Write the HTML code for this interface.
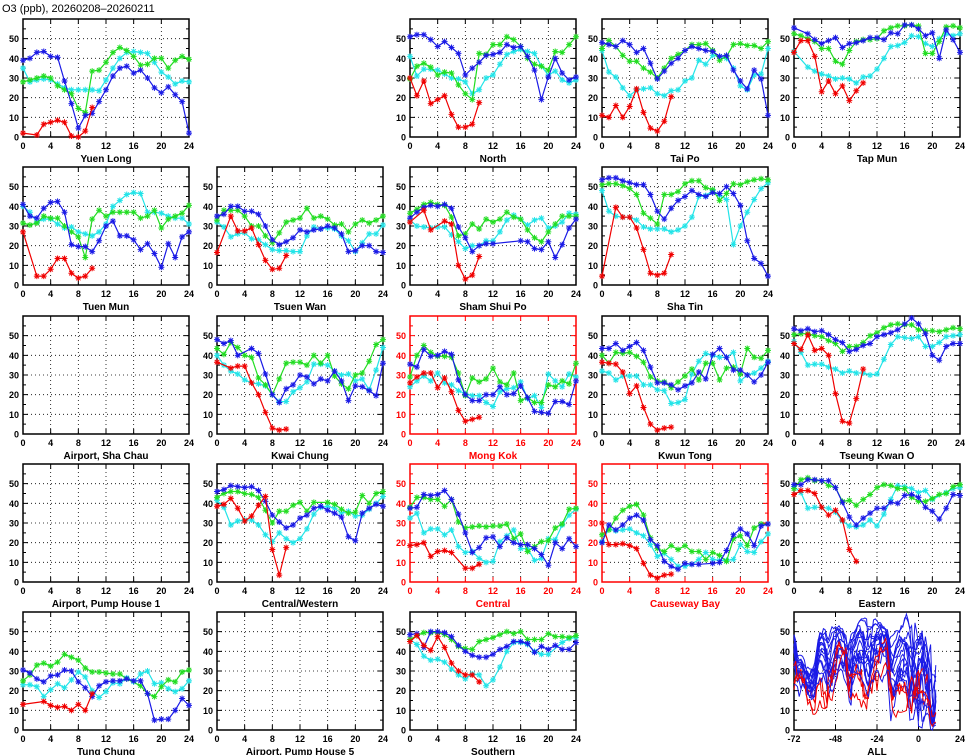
<!DOCTYPE html>
<html><head><meta charset="utf-8">
<style>
html,body{margin:0;padding:0;background:#fff;}
svg{display:block;font-family:"Liberation Sans",sans-serif;}
</style></head>
<body>
<svg id="chart" width="965" height="755" viewBox="0 0 965 755" xmlns="http://www.w3.org/2000/svg">
<text x="2" y="12" font-size="11">O3 (ppb), 20260208–20260211</text>
</svg>
<script>
// Hours and tick labels
const hoursLabels = [0,4,8,12,16,20,24];
const allLabels = [-72,-48,-24,0,24];
const yLabels = [0,10,20,30,40,50];

// Day series order: day1 cyan, day2 green, day3 blue, day4 red
const yuenLong_c=[35,28,29,29.5,29,27,25,24,24,24,24,23.5,29,35,40,43,43.5,43,42.5,38,33,30.5,27,28.5,28];
const yuenLong_g=[28,29,30,31,30,26,24,22,14.5,12.5,33.5,34,38,43,45.5,44,41,36.5,37,40,40,35,39,41,39.5];
const yuenLong_b=[39,40,43,43.5,41,40.5,28.5,17,4.5,11,12,18,24,31,35,36,32.5,34,30,25,22.5,25.5,21.5,18,2];
const yuenLong_r=[2,null,1,6.5,7.5,8.5,7.5,0.5,0,3,15];

const north_c=[41,31,34.5,34.5,34,32,30,29.5,28,22,24,30,31.5,37,42,43.5,44.5,43.5,42.5,36,31.5,33.5,29,27.5,29];
const north_g=[29.5,36,37.5,35.5,31.5,33,32.5,26.5,22,19,42.5,42,47,47,51,49.5,46,40,37,36,34,43.5,43,47,51];
const north_b=[51,52,52,49.5,46,48.5,45.5,42.5,31.5,35,38,41.5,42,43,47,45.5,46,41,34,19,30.5,40,32.5,29,30.5];
const north_r=[30,21,28.5,17,19,21,11.5,5,5,6.5,17.5];

const taiPo_c=[44,33,30.5,25,21,24,24.5,25,22,21,23.5,24,28.5,30,39,37,41.5,41,40,35,26,24,31.5,32,45];
const taiPo_g=[45,49,46,41.5,38.5,38.5,35,33,30,35,40,42,44,47,47,47.5,44,39,41,47,47.5,46.5,46.5,45,48.5];
const taiPo_b=[48,47,46,49,47,43,45,37.5,29.5,33.5,37.5,40,44,46,45,44,43.5,41,41.5,34,28.5,24.5,34,29.5,11];
const taiPo_r=[11,10,16,10,15.5,24.5,12.5,4.5,3,8,20.5];

const tapMun_c=[43.5,null,35.5,33.5,32,31,29.5,30,29.5,27.5,30.5,31,34.5,40,46,46.5,48,51.5,51,47.5,46,50,52.5,51.5,52.5];
const tapMun_g=[52.5,51.5,50,48.5,45,45,38.5,37,44,48.5,49.5,49.5,50,54,55.5,56.5,56.5,57,56.5,42.5,42.5,48.5,56,56.5,55.5];
const tapMun_b=[55.5,null,52.5,49.5,47.5,49,50.5,45.5,47.5,48,49,50.5,50.5,49.5,53,52.5,57,57,55,51.5,53,40,54.5,49.5,43];
const tapMun_r=[43,49,49,41,23,28.5,22,26,18.5,23.5,27.5];

const tuenMun_c=[40,37,32,33.5,33.5,31,29,29.5,27,26,25,27,31,40,43,46,47,46.5,37,37,36.5,35,34,34,31];
const tuenMun_g=[31.5,30.5,31.5,35,34,34,30,27,24.5,14,33.5,38,35,37,37,37,37,34,35,38,29,33.5,35,36.5,40.5];
const tuenMun_b=[41,35,34,39,42,42.5,37,20.5,19.5,19.5,17,22.5,30,32.5,25,25,23,18,21,16,9,21,14,24.5,27];
const tuenMun_r=[27,null,4.5,4.5,8,13.5,13.5,6,3.5,4.5,8.5];

const tsuenWan_c=[32,29.5,24.5,26,26.5,23.5,23,20.5,18,17.5,17.5,17,17,25,29.5,28.5,29,28.5,25,22.5,17,21.5,26,26,30.5];
const tsuenWan_g=[33,38,38,38,35,30,30,25,21.5,26.5,32,33,34,39,34,35,33.5,30.5,31,27,31,33,31.5,33,35];
const tsuenWan_b=[35,36,40,40,37.5,37.5,36,30,23,20.5,22,24,28,27,28,28.5,30,29,26,17,17.5,20,20,17,16.5];
const tsuenWan_r=[16.5,null,35,27.5,27.5,29,20.5,12.5,8,8.5,15];

const shamShuiPo_c=[33,30,29.5,29,29.5,29.5,25.5,22,18.5,20,20,22.5,22.5,27,33,35.5,33.5,30.5,33,34,29,30,32,36.5,36];
const shamShuiPo_g=[36.5,38.5,41,42,41,40.5,34.5,25,26,31,28.5,33.5,32,33.5,37,34.5,33.5,28,24,22,27,31,35,35,35];
const shamShuiPo_b=[34,37,39.5,40.5,40,41,39,29.5,24,17,20,21,21,null,null,null,22.5,22,18.5,18,22,14,20.5,29,33.5];
const shamShuiPo_r=[32,null,38,28,null,32.5,31,10,3,5,14.5];

const shaTin_c=[48,37.5,35,34.5,34.5,33,29.5,28.5,28.5,28.5,27,28,30,34.5,45,45.5,48,45.5,43.5,20.5,30,37,43.5,49,52];
const shaTin_g=[51,51.5,51.5,50.5,49,46,36.5,34,31,46,46,47.5,51.5,53,53,49.5,48.5,43,46.5,51.5,51,52.5,53.5,54,53.5];
const shaTin_b=[53.5,54.5,54.5,53,52,51,51,46,37.5,33.5,39,43,45,48,46,45,47,46.5,50,46.5,40.5,22.5,13.5,11,4.5];
const shaTin_r=[4.5,null,39.5,34.5,34.5,29,18,6,5,6,15.5];

const kwaiChung_c=[40,35,32,30.5,27.5,26,25.5,24.5,20,16.5,16.5,21.5,23.5,26.5,35.5,35.5,35,32,30,30.5,27,28,22.5,32.5,44];
const kwaiChung_g=[43.5,40.5,46.5,44,40,39,28.5,25,20,28,36,36.5,36.5,35,40,36,40,29.5,25.5,23,30,31,37,45.5,48];
const kwaiChung_b=[48,46,47.5,40,null,43.5,41,30.5,20,16,23,25,30,29,25.5,28,27,32,27,17,24.5,24,22,19.5,36];
const kwaiChung_r=[36.5,null,33.5,34.5,34.5,26,20,11,3,2,2.5];

const mongKok_c=[24,27,29.5,27,31,26,25,22,20.5,19.5,19.5,16,14,21.5,23,23.5,26.5,18,19.5,13.5,30.5,27,24,30.5,29];
const mongKok_g=[29,40,45,41.5,39.5,39.5,39,31,19.5,28.5,26.5,28,33.5,26.5,25,31,17,18.5,16,16,25,24,27,25.5,36];
const mongKok_b=[35.5,34,43,39.5,40,42,40.5,27.5,20,17,17,20,20,24,20,20.5,24.5,18.5,11.5,11,10.5,16.5,16.5,15,27];
const mongKok_r=[26,29,31,31,23.5,28.5,21.5,12,6.5,7.5,8.5];

const kwunTong_c=[32,31,27.5,29.5,29.5,29.5,25,25,22.5,22,15.5,16,17.5,30.5,37,41,40,39,39,41.5,27,30,31,33.5,37];
const kwunTong_g=[40,36,41.5,41,41.5,39.5,36.5,29,27,26.5,23.5,26.5,29.5,33,27.5,36,36,27.5,33.5,34,30.5,43.5,39,38.5,42.5];
const kwunTong_b=[43.5,43.5,46,42.5,44.5,46.5,42.5,34,26,26,25,22.5,24.5,26,31.5,28,40.5,43.5,39,32.5,32.5,30,26.5,30,36.5];
const kwunTong_r=[36.5,36,35.5,31.5,20.5,24.5,13.5,5,2,3,3.5];

const tko_c=[47,41.5,35,35.5,35.5,34,33,31,32,31,31,30,30.5,38,45.5,49.5,49,48.5,49.5,44.5,44.5,46.5,49.5,50,50.5];
const tko_g=[50.5,51,51,50,49.5,47.5,46,42,44.5,44.5,46.5,50,51.5,54,55.5,56,55.5,55.5,53,52.5,52.5,52,53,54,53.5];
const tko_b=[53.5,52.5,53.5,52,52.5,50.5,48,46.5,42,43,45,46,49.5,50.5,51.5,53,56,59,56,51,40,37.5,44.5,46,46];
const tko_r=[46,43,50.5,42.5,43.5,40,20.5,6.5,5.5,18,33];

const centralWestern_c=[41.5,38,29,31,31.5,31.5,29,24,20.5,25,22,20,22,27,34.5,38,38.5,37.5,35,36,33.5,34,37,40,43.5];
const centralWestern_g=[43,45,46,46,45,44.5,43,36.5,30,36,36,39,40.5,36,40.5,null,40.5,39.5,37,35,35.5,44,40,45,46];
const centralWestern_b=[46,47,49,48.5,48,48.5,46.5,41,34,30.5,27.5,29,32.5,34,37.5,38.5,36.5,35,33,23,21,35,37.5,39.5,38.5];
const centralWestern_r=[38.5,39.5,42.5,37.5,31,33.5,39,43.5,16.5,3.5,17.5];

const central_c=[32.5,35,25,27,27,24,26.5,18,15,15.5,12,10,10.5,20.5,23.5,26.5,17,17,11,12,22,21.5,29,34,37];
const central_g=[38,43,43,42,42,38.5,42,30.5,27.5,28,28.5,28,28.5,28.5,29.5,22,24.5,15.5,18,20.5,21,27.5,29.5,37,37.5];
const central_b=[37.5,38,44.5,44,44.5,46.5,42,34.5,25,15,17.5,22.5,23,18,22.5,20,19,19,17,14,8.5,20,17,22,18];
const central_r=[18.5,19,20,13,15.5,16,15,null,7,7,9];

const causewayBay_c=[20.5,27,26,26.5,27,25,23.5,19,13,14.5,11.5,8,8,9,11.5,15,11.5,11,11,11.5,19,15.5,15,20.5,24.5];
const causewayBay_g=[24,26.5,32.5,36.5,38.5,39.5,34,22.5,17,15.5,18.5,16.5,18.5,15.5,15.5,11.5,15,13.5,10.5,22,23.5,18.5,27.5,29.5,29.5];
const causewayBay_b=[20,29,26.5,29,32.5,34,31.5,21.5,18.5,10.5,8,6.5,9.5,9,9,null,9.5,10,16,24,27,24.5,18.5,28.5,29.5];
const causewayBay_r=[30,19,19,19.5,18.5,17,9.5,3.5,2,3.5,4];

const eastern_c=[48.5,45.5,37.5,38,38,37.5,35.5,31,28.5,28,29,31.5,28.5,34.5,42,49,48.5,47.5,45.5,46.5,42,null,45.5,47.5,48];
const eastern_g=[47.5,52,53,51.5,51.5,49,48,41,41.5,39,42,44.5,48,49.5,49,47.5,47.5,43,41,41,42.5,44.5,45,48.5,49.5];
const eastern_b=[49.5,49.5,52,52,51.5,51.5,48,40.5,33,29,32.5,35,37.5,37.5,40.5,40,44,44.5,43,38,36,32,37.5,44.5,44];
const eastern_r=[44.5,46.5,46.5,45,38,34,36.5,31.5,16.5,10.5,null];

const tungChung_c=[23,23,22,17,20.5,23.5,21.5,25.5,29.5,27,20,16.5,19.5,24,23.5,26.5,24.5,28.5,30,23.5,24,21,19.5,21,25];
const tungChung_g=[25,28,33,34,32.5,34.5,38.5,37,35.5,31.5,29.5,29.5,29,28.5,28.5,26,null,22.5,18.5,17,22,25.5,24.5,29.5,30.5];
const tungChung_b=[30.5,29,26,24.5,27.5,28,30.5,30,24.5,21.5,17,22.5,24.5,25,25,26,25,25,18.5,5,5.5,5.5,10,16,12.5];
const tungChung_r=[13,null,null,14.5,12.5,11.5,12,10,13,10,18.5];

const southern_c=[46,43.5,37.5,35.5,36,34.5,31,28,26,28.5,28,22.5,25.5,32,40,44.5,44.5,43.5,40,38.5,38.5,null,44.5,46.5,47];
const southern_g=[46,48,49.5,49.5,49.5,48.5,46,42.5,41.5,41,45,46,47,48.5,50,49,50,46,46,46,49,47.5,47.5,47,48];
const southern_b=[48.5,49,42,50,50,49.5,47.5,43,40,38,37,37,38.5,41,42.5,45,45,44,39.5,42.5,41,43,41,41,44.5];
const southern_r=[45,48,43,40.5,47.5,42,34,30,28,28,24.5];

const panels = [
 {name:"Yuen Long",col:0,row:0,road:false,s:[yuenLong_c,yuenLong_g,yuenLong_b,yuenLong_r]},
 {name:"North",col:2,row:0,road:false,s:[north_c,north_g,north_b,north_r]},
 {name:"Tai Po",col:3,row:0,road:false,s:[taiPo_c,taiPo_g,taiPo_b,taiPo_r]},
 {name:"Tap Mun",col:4,row:0,road:false,s:[tapMun_c,tapMun_g,tapMun_b,tapMun_r]},
 {name:"Tuen Mun",col:0,row:1,road:false,s:[tuenMun_c,tuenMun_g,tuenMun_b,tuenMun_r]},
 {name:"Tsuen Wan",col:1,row:1,road:false,s:[tsuenWan_c,tsuenWan_g,tsuenWan_b,tsuenWan_r]},
 {name:"Sham Shui Po",col:2,row:1,road:false,s:[shamShuiPo_c,shamShuiPo_g,shamShuiPo_b,shamShuiPo_r]},
 {name:"Sha Tin",col:3,row:1,road:false,s:[shaTin_c,shaTin_g,shaTin_b,shaTin_r]},
 {name:"Airport, Sha Chau",col:0,row:2,road:false,s:null},
 {name:"Kwai Chung",col:1,row:2,road:false,s:[kwaiChung_c,kwaiChung_g,kwaiChung_b,kwaiChung_r]},
 {name:"Mong Kok",col:2,row:2,road:true,s:[mongKok_c,mongKok_g,mongKok_b,mongKok_r]},
 {name:"Kwun Tong",col:3,row:2,road:false,s:[kwunTong_c,kwunTong_g,kwunTong_b,kwunTong_r]},
 {name:"Tseung Kwan O",col:4,row:2,road:false,s:[tko_c,tko_g,tko_b,tko_r]},
 {name:"Airport, Pump House 1",col:0,row:3,road:false,s:null},
 {name:"Central/Western",col:1,row:3,road:false,s:[centralWestern_c,centralWestern_g,centralWestern_b,centralWestern_r]},
 {name:"Central",col:2,row:3,road:true,s:[central_c,central_g,central_b,central_r]},
 {name:"Causeway Bay",col:3,row:3,road:true,s:[causewayBay_c,causewayBay_g,causewayBay_b,causewayBay_r]},
 {name:"Eastern",col:4,row:3,road:false,s:[eastern_c,eastern_g,eastern_b,eastern_r]},
 {name:"Tung Chung",col:0,row:4,road:false,s:[tungChung_c,tungChung_g,tungChung_b,tungChung_r]},
 {name:"Airport, Pump House 5",col:1,row:4,road:false,s:null},
 {name:"Southern",col:2,row:4,road:false,s:[southern_c,southern_g,southern_b,southern_r]}
];

const X0=[23,217,410,602,794], Y0=[19,167,316,464,612], W=166, H=118, YMAX=60;
const colors=["#22e4e8","#22dd22","#1a1ae6","#f00000"];
const svg=document.getElementById('chart');
const NS="http://www.w3.org/2000/svg";
function mk(tag,attrs,parent){const e=document.createElementNS(NS,tag);for(const k in attrs)e.setAttribute(k,attrs[k]);(parent||svg).appendChild(e);return e;}
function slug(s){return s.toLowerCase().replace(/[^a-z0-9]+/g,'-').replace(/^-|-$/g,'');}

function drawFrame(col,row,name,road,xmin,xmax,xlabs,grids){
  const x0=X0[col], y0=Y0[row], fg=road?"#f00":"#000";
  const sx=v=>x0+(v-xmin)/(xmax-xmin)*W;
  const sy=v=>y0+H-v/YMAX*H;
  const g=mk('g',{});
  
  
  let gd="";
  grids.forEach(v=>{const x=sx(v);gd+=`M${x} ${y0}V${y0+H}`;});
  yLabels.slice(1).forEach(v=>{const y=sy(v);gd+=`M${x0} ${y}H${x0+W}`;});
  const grid=mk('path',{d:gd,stroke:"#000","stroke-width":0.8,"stroke-dasharray":"1,3",fill:"none"},g);
  
  
  let td="";
  xlabs.forEach(v=>{const x=sx(v);td+=`M${x} ${y0+H}v-5M${x} ${y0}v5`;});
  yLabels.forEach(v=>{const y=sy(v);td+=`M${x0} ${y}h5M${x0+W} ${y}h-5`;});
  for(let v=5;v<YMAX;v+=10){const y=sy(v);td+=`M${x0} ${y}h3M${x0+W} ${y}h-3`;}
  mk('path',{d:td,stroke:fg,"stroke-width":1,fill:"none"},g);
  const fr=mk('rect',{x:x0,y:y0,width:W,height:H,fill:"none",stroke:fg,"stroke-width":1.5},g);
  
  
  yLabels.forEach(v=>{const t=mk('text',{x:x0-4,y:sy(v)+3.5,"text-anchor":"end","font-size":9,"font-weight":"bold",fill:fg},g);t.textContent=v;
    
    });
  xlabs.forEach(v=>{const t=mk('text',{x:sx(v),y:y0+H+12,"text-anchor":"middle","font-size":9,"font-weight":"bold",fill:fg},g);t.textContent=v;
    
    });
  const tt=mk('text',{x:x0+W/2,y:y0+H+25,"text-anchor":"middle","font-size":10,"font-weight":"bold",fill:fg},g);
  tt.textContent=name;
  
  
  return {g,sx,sy};
}

function drawSeries(g,sx,sy,arr,xoff,color,markers,sw){
  let d="",md="",started=false;
  arr.forEach((v,i)=>{
    if(v===null||v===undefined)return;
    const x=sx(i+xoff), y=sy(v);
    d+=(started?"L":"M")+x.toFixed(1)+" "+y.toFixed(1);started=true;
    if(markers){const r=3;md+=`M${x-r} ${y}h${2*r}M${x} ${y-r}v${2*r}M${x-2.2} ${y-2.2}l4.4 4.4M${x-2.2} ${y+2.2}l4.4 -4.4`;}
  });
  const p=mk('path',{d:d,stroke:color,"stroke-width":sw,fill:"none","stroke-linejoin":"round"},g);
  
  
  if(markers){const m=mk('path',{d:md,stroke:color,"stroke-width":1,fill:"none"},g);
    
    }
}

panels.forEach(p=>{
  const f=drawFrame(p.col,p.row,p.name,p.road,0,24,hoursLabels,[4,8,12,16,20]);
  if(!p.s)return;
  p.s.forEach((arr,k)=>drawSeries(f.g,f.sx,f.sy,arr,0,colors[k],true,1.2));
});

const fa=drawFrame(4,4,"ALL",false,-72,24,allLabels,[-48,-24,0]);
panels.forEach(p=>{
  if(!p.s)return;
  const col=p.road?"#f00000":"#1a1ae6";
  const cont=[];
  p.s.forEach((arr,k)=>{arr.forEach((v,i)=>{if(k<3&&i===24)return;cont.push([-72+24*k+i,v]);});});
  let d="",st=false;
  cont.forEach(([x,v])=>{if(v===null)return;d+=(st?"L":"M")+fa.sx(x).toFixed(1)+" "+fa.sy(v).toFixed(1);st=true;});
  const pl=mk('path',{d:d,stroke:col,"stroke-width":1,fill:"none"},fa.g);
  
  
});
</script>
</body></html>
